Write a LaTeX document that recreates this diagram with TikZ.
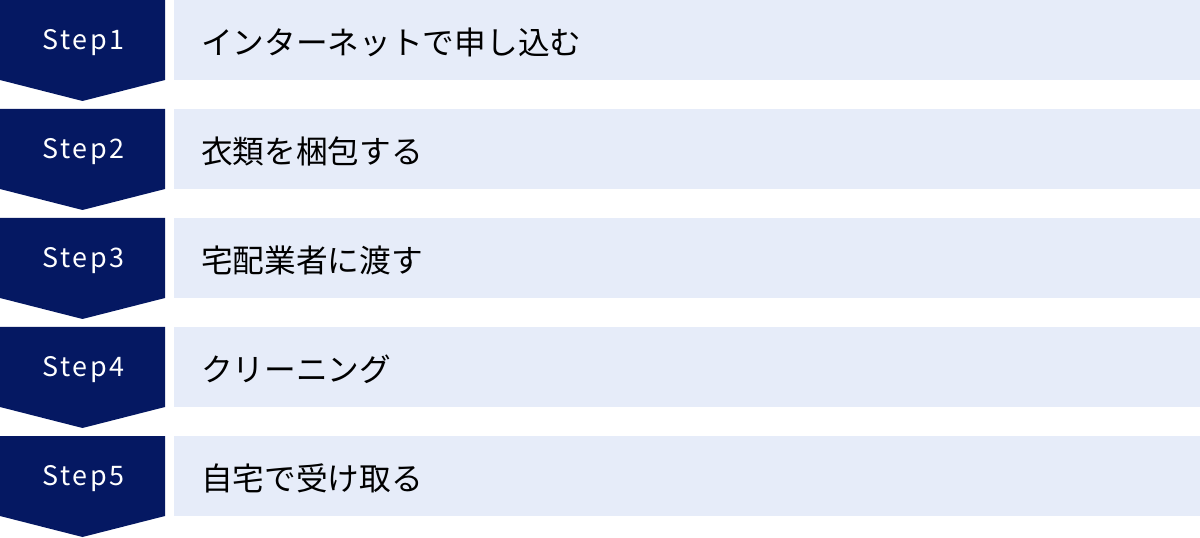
\documentclass[tikz,border=0pt]{standalone}
\usepackage{fontspec}
\setmainfont{Noto Sans CJK JP}
\newfontfamily\stepfont[LetterSpace=10]{Noto Sans CJK JP}
\definecolor{navy}{HTML}{051862}
\definecolor{lightbox}{HTML}{E6ECF9}
\tikzset{
  stepshape/.style={fill=navy, draw=none},
  itembox/.style={fill=lightbox, draw=none},
  steplabel/.style={text=white, font=\stepfont\fontsize{27}{27}\selectfont, inner sep=0pt, anchor=center},
  itemlabel/.style={text=black, font=\fontsize{31.8}{31.8}\selectfont, inner sep=0pt, anchor=west}
}
\begin{document}
\begin{tikzpicture}[x=1bp,y=-1bp]
\useasboundingbox (0,0) rectangle (1200,538);
\foreach \i/\t in {0/インターネットで申し込む,1/衣類を梱包する,2/宅配業者に渡す,3/クリーニング,4/自宅で受け取る}{
  \pgfmathsetmacro{\top}{109*\i}
  \fill[stepshape] (0,\top) -- (165,\top) -- (165,\top+80) -- (82.5,\top+101) -- (0,\top+80) -- cycle;
  \fill[itembox] (174,\top) rectangle (1200,\top+80);
  \pgfmathtruncatemacro{\n}{\i+1}
  \node[steplabel] (step\n) at (83.5,\top+43) {Step\n};
  \node[itemlabel] (item\n) at (201,\top+42) {\t};
}
\end{tikzpicture}
\end{document}
